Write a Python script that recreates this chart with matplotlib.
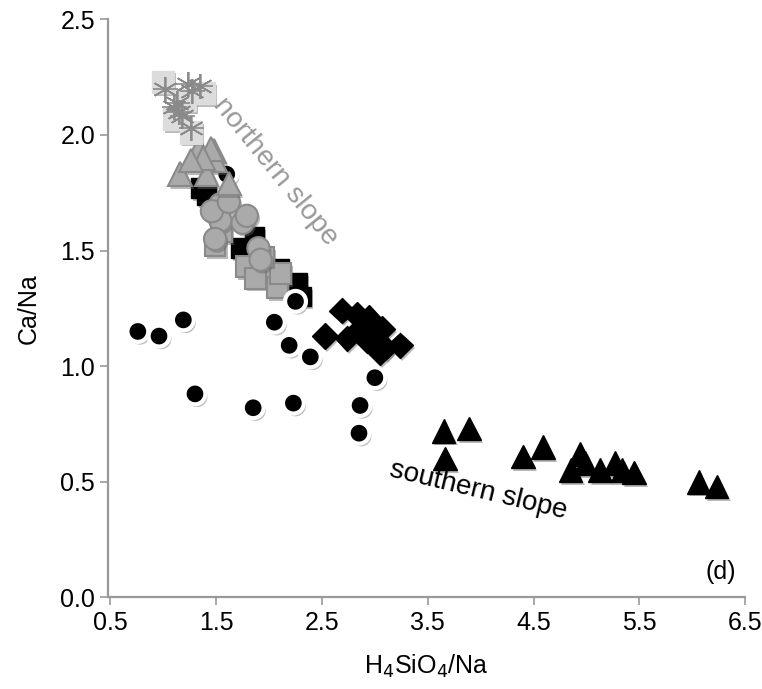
import matplotlib
matplotlib.use('Agg')
import matplotlib.pyplot as plt
import matplotlib.patheffects as pe

# --- data ---
# southern slope
circ_x = [0.76, 0.96, 1.19, 1.30, 1.85, 2.23, 2.05, 2.19, 2.39, 2.25, 3.00, 2.86, 2.85, 1.60]
circ_y = [1.15, 1.13, 1.20, 0.88, 0.82, 0.84, 1.19, 1.09, 1.04, 1.28, 0.95, 0.83, 0.71, 1.83]

diam_x = [2.69, 2.53, 2.83, 2.94, 2.74, 2.86, 2.99, 3.07, 3.10, 3.24, 3.05, 2.93]
diam_y = [1.24, 1.13, 1.22, 1.21, 1.12, 1.16, 1.14, 1.16, 1.08, 1.09, 1.06, 1.11]

tri_x = [3.65, 3.89, 3.66, 4.40, 4.59, 4.94, 4.85, 5.13, 5.27, 5.34, 5.45, 6.06, 6.23, 4.99]
tri_y = [0.72, 0.73, 0.60, 0.61, 0.65, 0.62, 0.55, 0.55, 0.58, 0.55, 0.54, 0.50, 0.48, 0.58]

bsq_x = [1.35, 1.41, 1.73, 1.86, 2.10, 2.27, 2.30]
bsq_y = [1.77, 1.74, 1.51, 1.56, 1.42, 1.36, 1.30]

# northern slope
gsq_x = [1.49, 1.79, 1.98, 2.08, 1.87, 2.11, 1.55, 1.95]
gsq_y = [1.52, 1.43, 1.40, 1.34, 1.38, 1.40, 1.58, 1.47]

gcirc_x = [1.54, 1.54, 1.75, 1.79, 1.49, 1.90, 1.92, 1.46, 1.62]
gcirc_y = [1.70, 1.63, 1.62, 1.65, 1.55, 1.51, 1.46, 1.67, 1.71]

gtri_x = [1.34, 1.16, 1.48, 1.49, 1.41, 1.62, 1.45, 1.38, 1.26]
gtri_y = [1.94, 1.83, 1.93, 1.89, 1.83, 1.79, 1.94, 1.90, 1.89]

lsq_x = [1.00, 1.38, 1.26, 1.10, 1.20]
lsq_y = [2.23, 2.18, 2.01, 2.07, 2.15]

ast_x = [1.02, 1.23, 1.27, 1.13, 1.15, 1.10, 1.26, 1.18, 1.35]
ast_y = [2.20, 2.22, 2.19, 2.14, 2.10, 2.12, 2.03, 2.08, 2.21]

xticks = [0.5, 1.5, 2.5, 3.5, 4.5, 5.5, 6.5]
yticks = [0.0, 0.5, 1.0, 1.5, 2.0, 2.5]

plt.rcParams['font.family'] = ['Liberation Sans', 'DejaVu Sans']

shadow = [pe.SimplePatchShadow(offset=(1.5, -2), shadow_rgbFace='#666666', alpha=0.45), pe.Normal()]

fig = plt.figure(figsize=(7.62, 6.89), dpi=100)
ax = fig.add_axes([0.142, 0.133, 0.836, 0.839])

ax.plot(bsq_x, bsq_y, 's', ms=14, mfc='black', mec='black', path_effects=shadow)
ax.plot(gsq_x, gsq_y, 's', ms=15, mfc='#aaaaaa', mec='#8a8a8a', mew=1.5, path_effects=shadow)
ax.plot(circ_x, circ_y, 'o', ms=15, mfc='black', mec='white', mew=3, path_effects=shadow)
ax.plot(gcirc_x, gcirc_y, 'o', ms=16, mfc='#aaaaaa', mec='#8a8a8a', mew=1.5, path_effects=shadow)
ax.plot(gtri_x, gtri_y, '^', ms=17, mfc='#aaaaaa', mec='#8a8a8a', mew=1.5, path_effects=shadow)
ax.plot(lsq_x, lsq_y, 's', ms=16, mfc='#dcdcdc', mec='#dcdcdc', path_effects=shadow)
ax.plot(ast_x, ast_y, linestyle='none', marker=(6, 2, 0), ms=18, mec='#8a8a8a', mew=1.2)
ax.plot(ast_x, ast_y, linestyle='none', marker='+', ms=18, mec='#8a8a8a', mew=1.2)
ax.plot(diam_x, diam_y, 'D', ms=13, mfc='black', mec='black', path_effects=shadow)
ax.plot(tri_x, tri_y, '^', ms=17, mfc='black', mec='black', path_effects=shadow)

ax.text(2.06, 1.84, 'northern slope', rotation=-51, color='#999999', fontsize=20.5,
        ha='center', va='center', rotation_mode='anchor')
ax.text(3.98, 0.46, 'southern slope', rotation=-13.5, color='black', fontsize=20,
        ha='center', va='center', rotation_mode='anchor')
ax.text(6.27, 0.11, '(d)', fontsize=18, ha='center', va='center')

ax.set_xlim(0.48, 6.5)
ax.set_ylim(0, 2.5)
ax.set_xticks(xticks)
ax.set_yticks(yticks)
ax.set_xticklabels([f'{v:.1f}' for v in xticks])
ax.set_yticklabels([f'{v:.1f}' for v in yticks])
ax.tick_params(labelsize=18, colors='#999999', labelcolor='black', length=6, width=1.2)
for s in ['top', 'right']:
    ax.spines[s].set_visible(False)
for s in ['left', 'bottom']:
    ax.spines[s].set_color('#999999')
    ax.spines[s].set_linewidth(1.6)

ax.set_xlabel(r'H$_4$SiO$_4$/Na', fontsize=18, labelpad=13)
ax.set_ylabel('Ca/Na', fontsize=18, labelpad=14)

fig.savefig('out.png', dpi=100)
